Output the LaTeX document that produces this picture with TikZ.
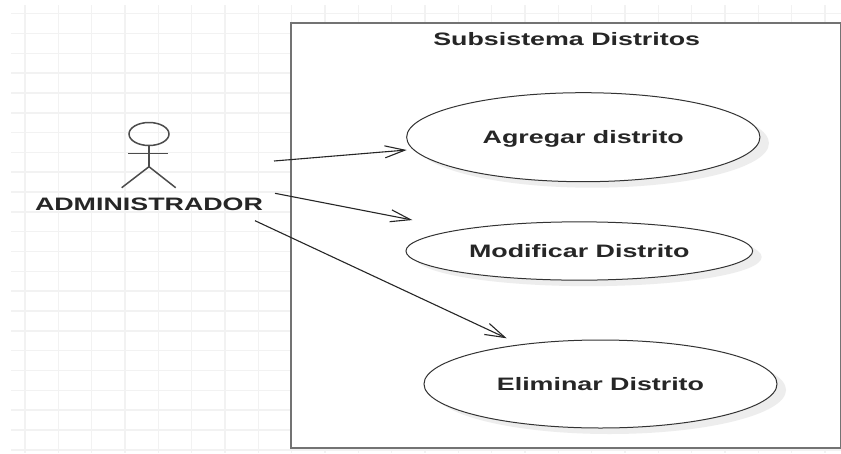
\documentclass[tikz,border=0pt]{standalone}
\usepackage{fontspec}
\setmainfont{Liberation Sans}
\usepackage{graphicx}
\usetikzlibrary{arrows.meta,shapes.geometric,shadows}
\newcommand{\lbl}[1]{\scalebox{1.49}[1]{#1}}
\tikzset{
  txt/.style={font=\fontsize{18}{20}\selectfont\bfseries, text=black!85, text height=12.9pt, text depth=0pt, inner sep=0pt},
  usecase/.style={ellipse, draw=black!80, line width=1pt, fill=white, inner sep=0pt, txt,
    drop shadow={shadow xshift=9pt, shadow yshift=-6pt, fill=black!7, opacity=1}},
  actorline/.style={draw=black!70, line width=1.5pt},
  assoc/.style={draw=black!85, line width=1.1pt, -{Straight Barb[length=20pt,width=12pt]}},
  gridline/.style={draw=black!5, line width=1.5pt},
  sysbox/.style={draw=black!55, line width=2.4pt, fill=white},
}
\begin{document}
\begin{tikzpicture}[x=1pt,y=-1pt]
\useasboundingbox (0,0) rectangle (841,453);
\fill[white] (0,0) rectangle (841,453);
% grid
\begin{scope}
\clip (11,5) rectangle (841,453);
\foreach \i in {0,...,25} \draw[gridline] ({25+33.333*\i},0) -- ({25+33.333*\i},453);
\foreach \j in {0,...,22} \draw[gridline] (0,{13.6+19.83*\j}) -- (841,{13.6+19.83*\j});
\end{scope}
% system boundary
\draw[sysbox] (291,23) rectangle (841.5,448);
\node[txt] (title) at (566.7,39.5) {\lbl{Subsistema Distritos}};
% use cases
\node[usecase, minimum width=353.3pt, minimum height=89pt] (uc1) at (583.3,137.2) {\lbl{Agregar distrito}};
\node[usecase, minimum width=346.7pt, minimum height=58.3pt] (uc2) at (579.3,251) {\lbl{Modificar Distrito}};
\node[usecase, minimum width=353pt, minimum height=88pt] (uc3) at (600.5,384) {\lbl{Eliminar Distrito}};
% actor
\node[ellipse, actorline, minimum width=40pt, minimum height=23pt, inner sep=0pt] (head) at (149,134) {};
\coordinate (hip) at (149,166.7);
\coordinate (handL) at (128.3,153.3);
\coordinate (handR) at (168.3,153.3);
\coordinate (footL) at (121.7,187.7);
\coordinate (footR) at (175.7,187.7);
\draw[actorline] (head.south) -- (hip);
\draw[actorline] (handL) -- (handR);
\draw[actorline] (footL) -- (hip) -- (footR);
\node[txt] (admin) at (149,204.5) {\lbl{ADMINISTRADOR}};
% associations
\coordinate (s1) at (274,161);
\coordinate (e1) at (406.7,150);
\coordinate (s2) at (275,193.3);
\coordinate (e2) at (412.3,220);
\coordinate (s3) at (255,220.7);
\coordinate (e3) at (506.7,338.3);
\draw[assoc] (s1) -- (e1);
\draw[assoc] (s2) -- (e2);
\draw[assoc] (s3) -- (e3);
\end{tikzpicture}
\end{document}
